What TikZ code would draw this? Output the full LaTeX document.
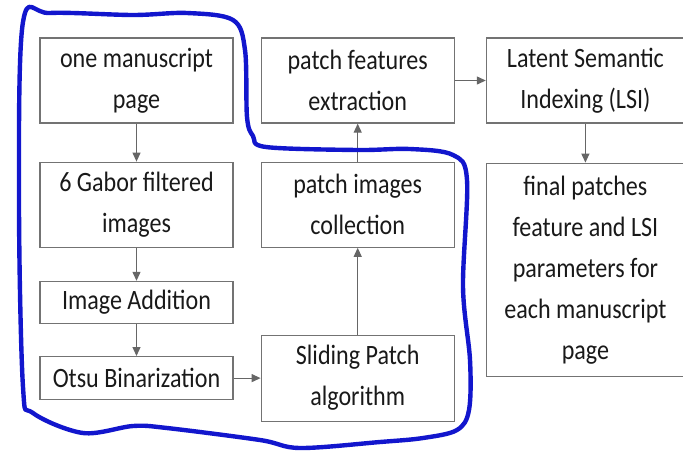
\documentclass[tikz,border=0pt]{standalone}
\usepackage{fontspec}
\setmainfont{Carlito}[FakeStretch=0.86]
\usetikzlibrary{arrows.meta,positioning}
\definecolor{lassoblue}{RGB}{18,22,205}

\begin{document}
\begin{tikzpicture}[
  x=0.5pt, y=-0.5pt,
  font=\fontsize{14}{20.5}\selectfont,
  stage/.style={draw=gray!90!black, line width=.6pt, minimum width=96.5pt,
    minimum height=42.5pt, align=center, inner sep=1pt, text=black!90},
  flow/.style={-{Triangle[length=4.5pt,width=4pt]}, draw=gray!80!black, line width=.6pt},
  lasso/.style={draw=lassoblue, line width=2.2pt, line join=round}
]
\useasboundingbox (0,0) rectangle (683,450);

% left column
\node[stage] (page) at (136.5,80.5) {one manuscript\\page};
\node[stage, below=19pt of page] (gabor) {6 Gabor filtered\\images};
\node[stage, minimum height=21pt, below=16.5pt of gabor] (addition) {Image Addition};
\node[stage, minimum height=21.5pt, below=16pt of addition] (otsu) {Otsu Binarization};

% middle column
\node[stage, right=13.5pt of page] (features) {patch features\\extraction};
\node[stage, below=19pt of features] (collection) {patch images\\collection};
\node[stage, minimum height=43pt] (sliding) at (collection.center |- otsu.center) {Sliding Patch\\algorithm};

% right column
\node[stage, minimum width=99pt, right=15.5pt of features] (lsi) {Latent Semantic\\Indexing (LSI)};
\node[stage, minimum width=99pt, minimum height=106.5pt, below=19.5pt of lsi] (final)
  {final patches\\feature and LSI\\parameters for\\each manuscript\\page};

\draw[flow] (page) -- (gabor);
\draw[flow] (gabor) -- (addition);
\draw[flow] (addition) -- (otsu);
\draw[flow] (otsu) -- (sliding);
\draw[flow] (sliding) -- (collection);
\draw[flow] (collection) -- (features);
\draw[flow] (features) -- (lsi);
\draw[flow] (lsi) -- (final);

% hand-drawn outline round the preprocessing part
\draw[lasso] plot[smooth cycle, tension=0.55] coordinates {
  (23,22) (50,13) (133,15) (187,13) (233,20) (245,50) (247,117) (253,136)
  (266,147) (357,150) (410,149) (453,155) (467,180) (463,287) (470,360)
  (469,410) (457,430) (423,438) (380,442) (300,448) (260,440) (167,428)
  (133,426) (83,433) (33,413) (23,387) (19,200)};
\end{tikzpicture}
\end{document}
